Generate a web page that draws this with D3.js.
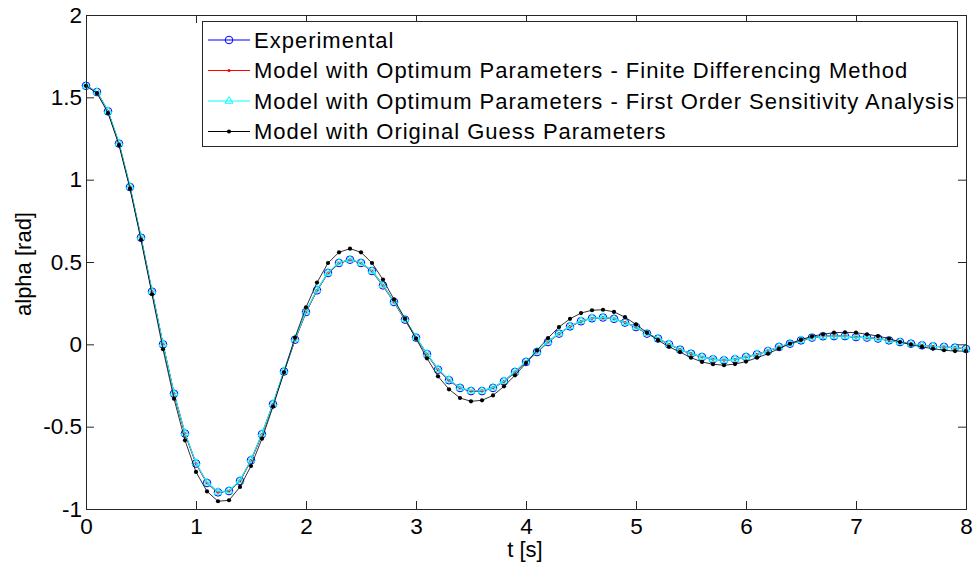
<!DOCTYPE html>
<html>
<head>
<meta charset="utf-8">
<script src="https://cdn.jsdelivr.net/npm/d3@7"></script>
<style>
  html, body { margin: 0; padding: 0; background: #fff; }
  svg { display: block; font-family: "Liberation Sans", Arial, Helvetica, sans-serif; }
</style>
</head>
<body>
<svg id="chart" width="974" height="567"></svg>
<script>
// Sample times [s]
const time = [
  0.0, 0.1, 0.2, 0.3, 0.4, 0.5, 0.6, 0.7, 0.8, 0.9,
  1.0, 1.1, 1.2, 1.3, 1.4, 1.5, 1.6, 1.7, 1.8, 1.9,
  2.0, 2.1, 2.2, 2.3, 2.4, 2.5, 2.6, 2.7, 2.8, 2.9,
  3.0, 3.1, 3.2, 3.3, 3.4, 3.5, 3.6, 3.7, 3.8, 3.9,
  4.0, 4.1, 4.2, 4.3, 4.4, 4.5, 4.6, 4.7, 4.8, 4.9,
  5.0, 5.1, 5.2, 5.3, 5.4, 5.5, 5.6, 5.7, 5.8, 5.9,
  6.0, 6.1, 6.2, 6.3, 6.4, 6.5, 6.6, 6.7, 6.8, 6.9,
  7.0, 7.1, 7.2, 7.3, 7.4, 7.5, 7.6, 7.7, 7.8, 7.9,
  8.0
];

// Measured pendulum angle [rad]
const experimental = [
  1.570, 1.532, 1.415, 1.219, 0.955, 0.648, 0.320, 0.000, -0.300, -0.542,
  -0.724, -0.842, -0.899, -0.891, -0.830, -0.704, -0.546, -0.364, -0.165, 0.028,
  0.196, 0.328, 0.433, 0.494, 0.514, 0.494, 0.445, 0.358, 0.257, 0.150,
  0.041, -0.060, -0.154, -0.218, -0.265, -0.284, -0.284, -0.265, -0.225, -0.168,
  -0.107, -0.047, 0.014, 0.065, 0.109, 0.140, 0.158, 0.163, 0.155, 0.132,
  0.105, 0.065, 0.035, 0.000, -0.032, -0.057, -0.077, -0.091, -0.097, -0.091,
  -0.077, -0.061, -0.041, -0.016, 0.004, 0.024, 0.041, 0.049, 0.050, 0.050,
  0.044, 0.041, 0.035, 0.024, 0.014, 0.004, -0.006, -0.012, -0.016, -0.020,
  -0.028
];

// Model, optimum parameters from finite differencing
const finiteDiff = [
  1.570, 1.531, 1.414, 1.219, 0.955, 0.647, 0.319, 0.000, -0.300, -0.542,
  -0.724, -0.842, -0.898, -0.891, -0.829, -0.704, -0.546, -0.364, -0.164, 0.028,
  0.196, 0.328, 0.432, 0.494, 0.513, 0.494, 0.445, 0.358, 0.257, 0.150,
  0.041, -0.060, -0.153, -0.218, -0.265, -0.284, -0.283, -0.264, -0.225, -0.168,
  -0.107, -0.047, 0.014, 0.065, 0.109, 0.140, 0.158, 0.163, 0.155, 0.132,
  0.104, 0.065, 0.034, 0.000, -0.032, -0.057, -0.077, -0.090, -0.096, -0.091,
  -0.077, -0.061, -0.040, -0.016, 0.004, 0.024, 0.040, 0.049, 0.050, 0.050,
  0.044, 0.040, 0.034, 0.024, 0.014, 0.004, -0.006, -0.012, -0.016, -0.020,
  -0.027
];

// Model, optimum parameters from first order sensitivity analysis
const sensitivity = [
  1.570, 1.532, 1.416, 1.221, 0.957, 0.650, 0.322, 0.003, -0.297, -0.539,
  -0.721, -0.840, -0.897, -0.889, -0.827, -0.701, -0.543, -0.361, -0.162, 0.031,
  0.199, 0.331, 0.435, 0.496, 0.515, 0.495, 0.446, 0.360, 0.259, 0.152,
  0.043, -0.058, -0.151, -0.216, -0.263, -0.282, -0.282, -0.263, -0.223, -0.166,
  -0.105, -0.045, 0.016, 0.066, 0.110, 0.141, 0.159, 0.164, 0.156, 0.133,
  0.106, 0.066, 0.036, 0.001, -0.031, -0.056, -0.076, -0.090, -0.096, -0.090,
  -0.076, -0.060, -0.040, -0.015, 0.005, 0.025, 0.041, 0.049, 0.050, 0.050,
  0.044, 0.041, 0.035, 0.024, 0.014, 0.004, -0.006, -0.012, -0.016, -0.020,
  -0.027
];

// Model, original guess parameters
const originalGuess = [
  1.570, 1.525, 1.405, 1.210, 0.945, 0.635, 0.304, -0.030, -0.330, -0.583,
  -0.775, -0.893, -0.953, -0.947, -0.866, -0.739, -0.573, -0.378, -0.170, 0.041,
  0.225, 0.375, 0.494, 0.559, 0.581, 0.559, 0.494, 0.393, 0.273, 0.156,
  0.035, -0.085, -0.194, -0.273, -0.326, -0.346, -0.340, -0.310, -0.255, -0.188,
  -0.114, -0.036, 0.038, 0.105, 0.155, 0.190, 0.207, 0.210, 0.197, 0.165,
  0.121, 0.071, 0.025, -0.015, -0.047, -0.081, -0.107, -0.121, -0.127, -0.120,
  -0.105, -0.081, -0.057, -0.026, 0.004, 0.028, 0.049, 0.061, 0.071, 0.073,
  0.071, 0.061, 0.050, 0.035, 0.014, -0.002, -0.016, -0.026, -0.036, -0.041,
  -0.041
];

const xTicks = [0, 1, 2, 3, 4, 5, 6, 7, 8];
const yTicks = [-1, -0.5, 0, 0.5, 1, 1.5, 2];
const legendLabels = [
  "Experimental",
  "Model with Optimum Parameters - Finite Differencing Method",
  "Model with Optimum Parameters - First Order Sensitivity Analysis",
  "Model with Original Guess Parameters"
];

const series = [
  { name: legendLabels[0], values: experimental, color: "#0000ff", marker: "circle" },
  { name: legendLabels[1], values: finiteDiff, color: "#ff0000", marker: "dot" },
  { name: legendLabels[2], values: sensitivity, color: "#00ffff", marker: "triangle" },
  { name: legendLabels[3], values: originalGuess, color: "#000000", marker: "bigdot" }
];

const svg = d3.select("#chart");
const margin = { left: 86, top: 15, right: 8, bottom: 58 };
const W = 974 - margin.left - margin.right;   // 880
const H = 567 - margin.top - margin.bottom;   // 494

const x = d3.scaleLinear().domain([0, 8]).range([0, W]);
const y = d3.scaleLinear().domain([-1, 2]).range([H, 0]);

const g = svg.append("g").attr("transform", `translate(${margin.left},${margin.top})`);

// Marker drawing helper
function drawMarker(sel, kind, color) {
  if (kind === "circle") {
    sel.append("circle").attr("r", 3.8).attr("fill", "none")
      .attr("stroke", color).attr("stroke-width", 1);
  } else if (kind === "dot") {
    sel.append("circle").attr("r", 1.6).attr("fill", color);
  } else if (kind === "triangle") {
    sel.append("path").attr("d", d3.symbol(d3.symbolTriangle, 26)())
      .attr("fill", "none").attr("stroke", color).attr("stroke-width", 1);
  } else if (kind === "bigdot") {
    sel.append("circle").attr("r", 2.1).attr("fill", color);
  }
}

const line = d3.line().x((d, i) => x(time[i])).y(d => y(d));

const plot = g.append("g");
series.forEach(s => {
  plot.append("path").datum(s.values)
    .attr("d", line)
    .attr("fill", "none")
    .attr("stroke", s.color)
    .attr("stroke-width", s.marker === "bigdot" ? 1 : 1.1)
    .attr("stroke-opacity", s.marker === "bigdot" ? 0.8 : 1);
  const pts = plot.append("g").selectAll("g").data(s.values).join("g")
    .attr("transform", (d, i) => `translate(${x(time[i])},${y(d)})`);
  drawMarker(pts, s.marker, s.color);
});

// Axes box with inward ticks on all four sides
const axisColor = "#262626";
const tickLen = 8;
const fmt = d => String(d);   // plain hyphen-minus

const bottomAxis = d3.axisBottom(x).tickValues(xTicks).tickSize(-tickLen).tickPadding(9).tickFormat(fmt);
const leftAxis = d3.axisLeft(y).tickValues(yTicks).tickSize(-tickLen).tickPadding(4).tickFormat(fmt);
const topAxis = d3.axisTop(x).tickValues(xTicks).tickSize(-tickLen).tickFormat("");
const rightAxis = d3.axisRight(y).tickValues(yTicks).tickSize(-tickLen).tickFormat("");

function styleAxis(a) {
  a.select(".domain").attr("stroke", axisColor);
  a.selectAll(".tick line").attr("stroke", axisColor);
  a.selectAll(".tick text").attr("fill", "#000").style("font-size", "22.5px");
}

g.append("g").attr("transform", `translate(0,${H})`).call(bottomAxis).call(styleAxis);
g.append("g").call(leftAxis).call(styleAxis);
g.append("g").call(topAxis).call(styleAxis);
g.append("g").attr("transform", `translate(${W},0)`).call(rightAxis).call(styleAxis);
g.selectAll(".domain").attr("d", null);
g.append("rect").attr("x", 0.5).attr("y", 0.5).attr("width", W).attr("height", H)
  .attr("fill", "none").attr("stroke", axisColor);

// Axis titles
svg.append("text")
  .attr("x", 525).attr("y", 557)
  .attr("text-anchor", "middle").style("font-size", "22px")
  .text("t [s]");
svg.append("text")
  .attr("transform", `translate(31,${264}) rotate(-90)`)
  .attr("text-anchor", "middle").style("font-size", "22px")
  .text("alpha [rad]");

// Legend
const lg = svg.append("g").attr("transform", "translate(202,21)");
lg.append("rect").attr("x", 0.5).attr("y", 0.5).attr("width", 755).attr("height", 125)
  .attr("fill", "#fff").attr("stroke", axisColor);
series.forEach((s, i) => {
  const row = lg.append("g").attr("transform", `translate(0,${19 + i * 30.5})`);
  row.append("line").attr("x1", 6).attr("x2", 48).attr("y1", 0).attr("y2", 0)
    .attr("stroke", s.color).attr("stroke-width", 1.1);
  const m = row.append("g").attr("transform", "translate(27,0)");
  drawMarker(m, s.marker, s.color);
  row.append("text").attr("x", 52).attr("y", 0).attr("dy", "0.36em")
    .style("font-size", "22px")
    .style("letter-spacing", "1px")
    .text(s.name);
});
</script>
</body>
</html>
